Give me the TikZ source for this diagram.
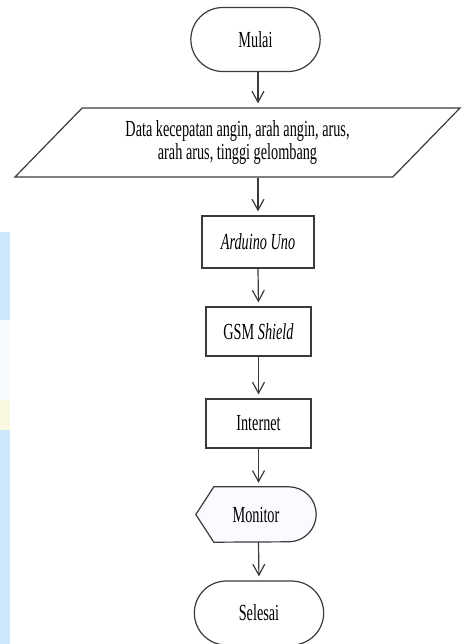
\documentclass[tikz,border=0pt]{standalone}
\usepackage{fontspec}
\setmainfont[FakeStretch=0.62]{Liberation Serif}
\usetikzlibrary{shapes.geometric,shapes.misc,arrows.meta}
\definecolor{garis}{HTML}{3A3A3A}
\definecolor{wmbiru}{HTML}{CDE7FC}
\definecolor{wmputih}{HTML}{F6FAFD}
\definecolor{wmkuning}{HTML}{FBF8E2}
\begin{document}
\begin{tikzpicture}[x=1pt,y=1pt,
		every node/.style={font=\fontsize{23}{23}\selectfont,text=black},
		terminal/.style={rounded rectangle,draw=garis,line width=1.2pt,minimum width=136pt,minimum height=64pt},
		proses/.style={rectangle,draw=garis,line width=1.2pt,minimum height=50pt},
		io/.style={trapezium,trapezium left angle=37,trapezium right angle=143,trapezium stretches body=true,draw=garis,line width=1.2pt,minimum width=445pt,minimum height=69pt,align=center},
		panah/.style={draw=garis,line width=1.2pt,-{Straight Barb[length=11pt,width=12pt]},shorten >=4pt}]
			\useasboundingbox (0,0) rectangle (462,-644);
			%watermark
			\fill[wmbiru] (0,-232) rectangle (10,-644);
			\fill[wmputih] (0,-320) rectangle (10,-400);
			\fill[wmkuning] (0,-400) rectangle (10,-430);
			%nodes
			\node[terminal] (mulai) at (255.5,-39.5) {Mulai};
			\node[io] (data) at (237.5,-142.5) {Data kecepatan angin, arah angin, arus,\\arah arus, tinggi gelombang};
			\node[proses,minimum width=112pt,minimum height=52pt] (arduino) at (258,-242) {\textit{Arduino Uno}};
			\node[proses,minimum width=105pt,minimum height=49pt] (gsm) at (258.5,-331.5) {GSM \textit{Shield}};
			\node[proses,minimum width=105pt,minimum height=49pt] (internet) at (258.5,-423.5) {Internet};
			\node[minimum width=120pt,minimum height=55pt] (monitor) at (256,-514.5) {Monitor};
			\filldraw[draw=garis,fill=blue!2,line width=1.2pt] (monitor.west) -- ([xshift=18pt]monitor.north west) -- ([xshift=-27.5pt]monitor.north east) arc[start angle=90,end angle=-90,radius=27.5pt] -- ([xshift=18pt]monitor.south west) -- cycle;
			\node at (monitor) {Monitor};
			\node[terminal] (selesai) at (259,-613) {Selesai};
			%arrows
			\draw[panah] (mulai.south -| arduino) -- (data.north -| arduino);
			\draw[panah] (data.south -| arduino) -- (arduino.north);
			\draw[panah] (arduino.south) -- (gsm.north);
			\draw[panah] (gsm.south) -- (internet.north);
			\draw[panah] (internet.south) -- (internet.south |- monitor.north);
			\draw[panah] (internet.south |- monitor.south) -- (selesai.north);
		\end{tikzpicture}
\end{document}
